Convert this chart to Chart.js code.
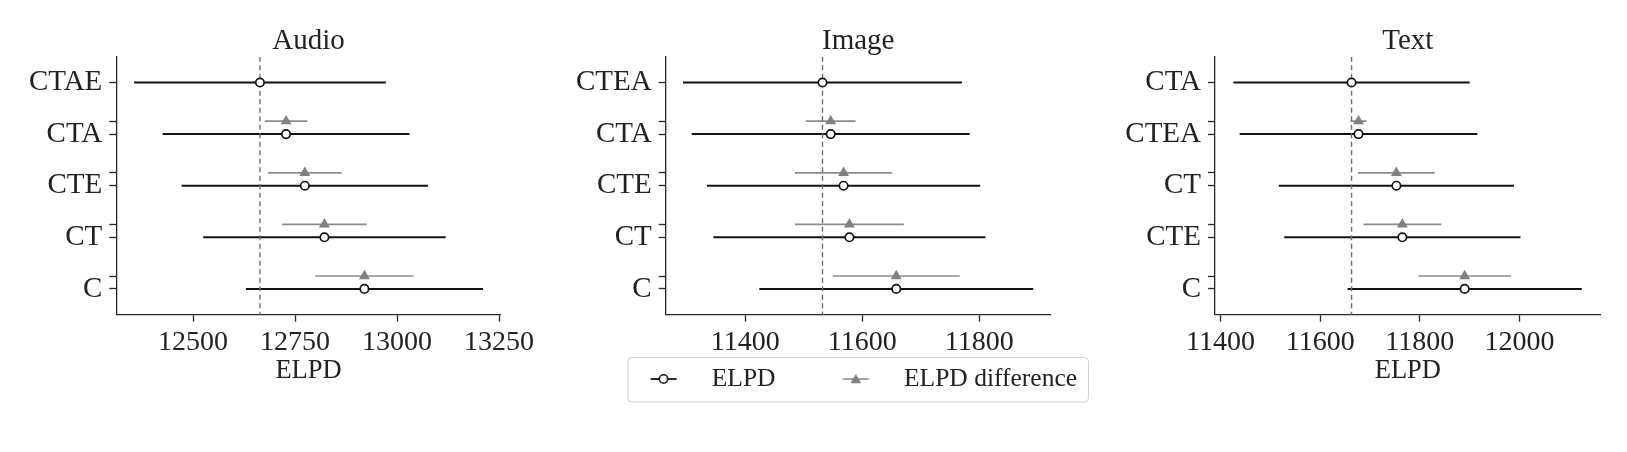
<!DOCTYPE html>
<html>
<head>
<meta charset="utf-8">
<script src="https://cdn.jsdelivr.net/npm/chart.js@4.4.0/dist/chart.umd.min.js"></script>
<style>
  body { margin: 0; background: #fff; width: 1627px; height: 452px; overflow: hidden; position: relative; }
  canvas { position: absolute; top: 0; }
</style>
</head>
<body>
<canvas id="audio"></canvas>
<canvas id="image"></canvas>
<canvas id="text"></canvas>
<script>
// values
const audioLabels = ['CTAE', 'CTA', 'CTE', 'CT', 'C']
const audioElpd = [12664, 12728, 12774, 12822, 12920]
const audioSe = [308.5, 302.5, 302, 297, 290.5]
const audioDse = [0, 52, 90, 103.5, 120.5]
const audioTicks = [12500, 12750, 13000, 13250]

const imageLabels = ['CTEA', 'CTA', 'CTE', 'CT', 'C']
const imageElpd = [11532, 11546, 11568, 11578, 11658]
const imageSe = [238.5, 237.5, 233.5, 232.5, 234]
const imageDse = [0, 42.5, 83, 93, 108.5]
const imageTicks = [11400, 11600, 11800]

const textLabels = ['CTA', 'CTEA', 'CT', 'CTE', 'C']
const textElpd = [11663, 11677, 11753, 11765, 11890]
const textSe = [237, 238.5, 236, 237, 235]
const textDse = [0, 16, 77, 78, 92.5]
const textTicks = [11400, 11600, 11800, 12000]

const FONT = "'Liberation Serif', 'DejaVu Serif', serif"
const INK = '#222'
const AXIS = '#262626'
const GREY = '#808080'

// legend symbol box and how far the symbol sits right of its centre
const SYM_BOX = 105.75
const SYM_SHIFT = 17.4

function makeIcon(kind){
    let c = document.createElement('canvas')
    c.width = 66; c.height = 16
    let g = c.getContext('2d')
    let cx = 33 + SYM_SHIFT
    g.lineWidth = kind == 'circle' ? 1.8 : 1.6
    g.strokeStyle = kind == 'circle' ? '#111' : '#8c8c8c'
    g.beginPath(); g.moveTo(cx - 13, 8); g.lineTo(cx + 13, 8); g.stroke()
    if (kind == 'circle') {
        g.beginPath(); g.arc(cx, 8, 4.2, 0, Math.PI*2)
        g.fillStyle = '#fff'; g.fill(); g.lineWidth = 1.6; g.stroke()
    } else {
        g.fillStyle = GREY
        g.beginPath(); g.moveTo(cx, 3); g.lineTo(cx + 5.3, 12.2); g.lineTo(cx - 5.3, 12.2); g.closePath(); g.fill()
    }
    return c
}

const legendFrame = {
    id: 'legendFrame',
    afterDraw(chart){
        let hb = chart.legend.legendHitBoxes
        if (!hb || !hb.length) return
        let ctx = chart.ctx
        let x1 = hb[0].left + SYM_BOX/2 + SYM_SHIFT - 36.2
        let last = hb[hb.length-1]
        let x2 = last.left + last.width + 11
        let cy = hb[0].top + hb[0].height/2
        ctx.save()
        ctx.strokeStyle = '#d0d0d0'
        ctx.lineWidth = 1
        ctx.beginPath()
        ctx.roundRect(x1 + 0.5, cy - 21.5, x2 - x1, 44.5, 4)
        ctx.stroke()
        ctx.restore()
    }
}

function errorSets(values, errs, shift, color, width){
    let sets = []
    for (let i = 0; i < values.length; i++) {
        if (!errs[i]) continue
        sets.push({
            data: [{x: values[i] - errs[i], y: i + shift}, {x: values[i] + errs[i], y: i + shift}],
            showLine: true, borderColor: color, borderWidth: width, pointRadius: 0,
            xAxisID: 'x', yAxisID: 'y'
        })
    }
    return sets
}

function compareChart(id, box, title, labels, elpd, se, dse, xTicks, xMin, xMax, withLegend){
    let el = document.getElementById(id)
    el.width = box.width; el.height = 452
    el.style.left = box.left + 'px'
    el.style.width = box.width + 'px'; el.style.height = '452px'

    let ref = elpd[0]
    let circles = elpd.map((v, i) => ({x: v, y: i}))
    let triangles = []
    for (let i = 1; i < elpd.length; i++) triangles.push({x: elpd[i], y: i - 0.25})

    let datasets = [
        {data: circles, pointStyle: 'circle', pointRadius: 4.2, pointBackgroundColor: '#fff',
         pointBorderColor: '#111', pointBorderWidth: 1.7, showLine: false, xAxisID: 'x', yAxisID: 'y'},
        {data: triangles, pointStyle: 'triangle', pointRadius: 6.3, pointBackgroundColor: GREY,
         pointBorderColor: GREY, pointBorderWidth: 0, showLine: false, xAxisID: 'x', yAxisID: 'y'},
        {data: [{x: ref, y: -0.5}, {x: ref, y: 4.5}], showLine: true, borderColor: '#6e6e6e',
         borderWidth: 1.4, borderDash: [5, 3.5], pointRadius: 0, xAxisID: 'x', yAxisID: 'y'}
    ]
    datasets = datasets.concat(errorSets(elpd, se, 0, '#111', 2))
    datasets = datasets.concat(errorSets(elpd, dse, -0.25, '#8c8c8c', 1.7))

    const tickGrid = {display: true, drawOnChartArea: false, drawTicks: true, tickLength: 7,
                      tickWidth: 1.3, tickColor: AXIS}
    const config = {
        type: 'scatter',
        data: {datasets: datasets},
        options: {
            responsive: false, animation: false, events: [],
            layout: {padding: {left: box.padL, right: box.padR, top: 0, bottom: box.padB}},
            plugins: {
                tooltip: {enabled: false},
                legend: {
                    display: withLegend, position: 'bottom', align: 'center',
                    labels: {
                        usePointStyle: true, pointStyleWidth: SYM_BOX, padding: 10,
                        color: INK, font: {family: FONT, size: 25.5},
                        generateLabels: () => [
                            {text: 'ELPD', pointStyle: makeIcon('circle'), fontColor: INK, hidden: false, lineWidth: 0},
                            {text: 'ELPD difference', pointStyle: makeIcon('triangle'), fontColor: INK, hidden: false, lineWidth: 0}
                        ]
                    }
                }
            },
            scales: {
                x: {
                    type: 'linear', position: 'bottom', min: xMin, max: xMax,
                    afterBuildTicks: s => { s.ticks = xTicks.map(v => ({value: v})) },
                    afterFit: s => { s.height = box.xHeight; s.paddingLeft = 0; s.paddingRight = 0 },
                    grid: tickGrid,
                    border: {display: true, color: AXIS, width: 1.3},
                    ticks: {autoSkip: false, maxRotation: 0, padding: 4.5, color: INK,
                            font: {family: FONT, size: 28, lineHeight: 1.2}, callback: v => String(v)},
                    title: {display: box.xTitle, text: 'ELPD', color: INK,
                            font: {family: FONT, size: 26.5, lineHeight: 1.2}, padding: {top: 0, bottom: 0}}
                },
                y: {
                    type: 'linear', position: 'left', reverse: true, min: -0.5, max: 4.5,
                    afterBuildTicks: s => {
                        let t = []
                        for (let i = 0; i < labels.length; i++) {
                            t.push({value: i})
                            if (i > 0) t.push({value: i - 0.25})
                        }
                        s.ticks = t
                    },
                    afterFit: s => { s.width = box.yWidth; s.paddingTop = 0; s.paddingBottom = 0 },
                    grid: tickGrid,
                    border: {display: true, color: AXIS, width: 1.3},
                    ticks: {autoSkip: false, padding: 7, color: INK,
                            font: {family: FONT, size: 29, lineHeight: 1.2},
                            callback: v => Number.isInteger(v) ? labels[v] : ''}
                },
                xT: {
                    type: 'linear', position: 'top', display: true,
                    grid: {display: false}, border: {display: false}, ticks: {display: false},
                    title: {display: true, text: title, color: INK,
                            font: {family: FONT, size: 29, lineHeight: 1.2}, padding: {top: 23.7, bottom: 0}},
                    afterFit: s => { s.height = 56.7 }
                },
                yR: {
                    type: 'linear', position: 'right', display: box.rightWidth > 0,
                    grid: {display: false}, border: {display: false}, ticks: {display: false},
                    afterFit: s => { s.width = box.rightWidth }
                }
            }
        },
        plugins: withLegend ? [legendFrame] : []
    }
    new Chart(el.getContext('2d'), config)
}

compareChart('audio', {left: 0, width: 560, padL: 0, padR: 59.3, padB: 65.3, yWidth: 116.3, xHeight: 72, rightWidth: 0, xTitle: true},
    'Audio', audioLabels, audioElpd, audioSe, audioDse, audioTicks, 12312, 13254, false)
compareChart('text', {left: 1100, width: 527, padL: 0, padR: 26.3, padB: 65.3, yWidth: 115, xHeight: 72, rightWidth: 0, xTitle: true},
    'Text', textLabels, textElpd, textSe, textDse, textTicks, 11389, 12163, false)
compareChart('image', {left: 540, width: 585.3, padL: 5.3, padR: 0, padB: 50.25, yWidth: 120.4, xHeight: 41.55, rightWidth: 74.3, xTitle: false},
    'Image', imageLabels, imageElpd, imageSe, imageDse, imageTicks, 11264, 11922, true)
</script>
</body>
</html>
